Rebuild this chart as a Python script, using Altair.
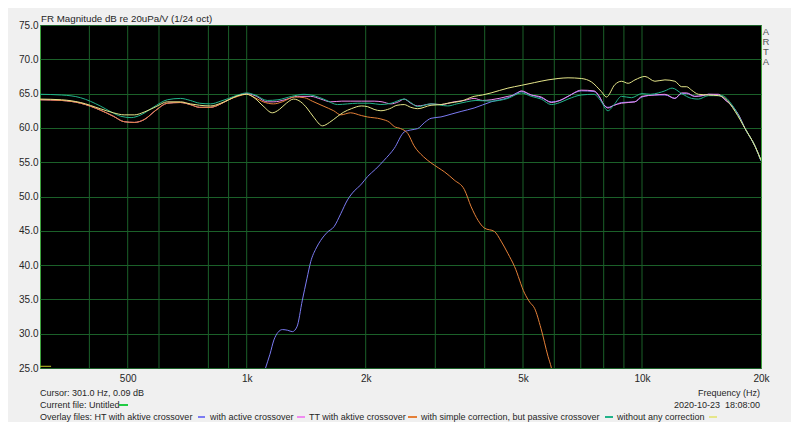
import altair as alt
import pandas as pd

FONT = "Liberation Sans"
TEXT_COLOR = "#262626"
GRID_COLOR = "#1b6029"

FREQ_DOMAIN = [300, 20000]
DB_DOMAIN = [25, 75]
X_LABEL_TICKS = [500, 1000, 2000, 5000, 10000, 20000]
X_GRID = [400, 500, 600, 800, 900, 1000, 2000, 3000, 4000, 5000, 6000, 7000, 8000, 9000, 10000]
Y_TICKS = [25, 30, 35, 40, 45, 50, 55, 60, 65, 70, 75]

# (frequency Hz, level dB)
CURRENT = [(300, 25.25), (320, 25.25)]

HT_ACTIVE = [(1100, 23.8), (1116, 25.0), (1145, 27.0), (1172, 29.1), (1200, 30.2), (1231, 30.6),
             (1270, 30.5), (1305, 30.3), (1340, 31.0), (1383, 34.9), (1420, 38.0), (1452, 40.5),
             (1500, 42.5), (1539, 43.6), (1600, 44.8), (1663, 45.6), (1730, 47.5), (1799, 49.5),
             (1870, 50.8), (1944, 51.7), (2021, 52.9), (2120, 54.0), (2228, 55.3), (2361, 57.0),
             (2503, 59.4), (2600, 59.7), (2707, 59.9), (2820, 60.8), (2926, 61.4), (3101, 61.6),
             (3288, 62.0), (3486, 62.4), (3761, 62.9), (4152, 63.8), (4579, 64.4), (4950, 65.3),
             (5245, 64.8), (5560, 64.4), (5895, 63.8), (6200, 64.0), (6500, 64.6), (7025, 65.4),
             (7560, 65.3), (7800, 64.5), (8000, 63.4), (8200, 63.0), (8500, 63.3), (8873, 63.7),
             (9590, 63.8), (10000, 64.5), (10780, 64.8), (11430, 64.8), (12110, 64.3), (12600, 65.0),
             (12970, 65.0), (13600, 64.6), (14200, 64.7), (14720, 64.9), (15610, 64.8), (16220, 64.1),
             (16870, 63.3), (17540, 61.9), (18230, 59.9), (19330, 57.3), (20000, 55.2)]

WITH_ACTIVE = [(300, 64.1), (340, 64.0), (380, 63.6), (426, 62.6), (460, 61.7), (490, 60.9),
               (520, 60.8), (550, 61.2), (590, 62.6), (630, 63.6), (680, 63.7), (720, 63.4),
               (760, 63.0), (810, 63.0), (860, 63.5), (900, 64.1), (950, 64.7), (1000, 65.0),
               (1050, 64.7), (1127, 63.8), (1172, 63.8), (1250, 64.1), (1343, 64.6), (1452, 64.6),
               (1540, 64.2), (1631, 63.8), (1740, 63.9), (1834, 63.9), (1950, 63.9), (2101, 63.9),
               (2200, 63.8), (2316, 63.5), (2420, 63.8), (2503, 64.2), (2600, 63.6), (2707, 63.2),
               (2800, 63.3), (2926, 63.5), (3101, 63.4), (3346, 63.8), (3550, 64.0), (3761, 64.3),
               (3950, 64.0), (4152, 64.1), (4350, 64.3), (4579, 64.6), (4800, 64.9), (4950, 65.4),
               (5245, 64.8), (5560, 64.5), (5895, 63.7), (6200, 64.0), (6500, 64.6), (7025, 65.5),
               (7560, 65.4), (7800, 64.6), (8000, 63.4), (8200, 62.9), (8500, 63.3), (8873, 63.6),
               (9590, 63.8), (10000, 64.6), (10780, 64.8), (11430, 64.9), (12110, 64.3), (12600, 65.1),
               (12970, 65.1), (13600, 64.6), (14200, 64.7), (14720, 64.9), (15610, 64.9), (16220, 64.1),
               (16870, 63.2), (17540, 61.9), (18230, 59.9), (19330, 57.3), (20000, 55.2)]

TT_ACTIVE = [(300, 64.1), (340, 64.0), (380, 63.6), (426, 62.6), (460, 61.7), (490, 60.9),
             (520, 60.8), (550, 61.2), (590, 62.6), (630, 63.6), (680, 63.7), (720, 63.4),
             (760, 63.0), (810, 63.0), (860, 63.5), (900, 64.1), (950, 64.6), (1000, 64.9),
             (1050, 64.4), (1100, 63.8), (1170, 63.5), (1230, 63.8), (1320, 64.5), (1400, 64.4),
             (1465, 63.9), (1560, 63.2), (1660, 62.5), (1730, 61.9), (1830, 62.2), (1950, 61.8),
             (2020, 61.6), (2185, 61.3), (2300, 60.8), (2361, 60.2), (2450, 59.9), (2555, 59.2),
             (2650, 57.4), (2800, 55.8), (2926, 54.9), (3050, 54.2), (3163, 53.6), (3350, 52.4),
             (3554, 51.0), (3697, 48.5), (3850, 46.5), (3993, 45.4), (4233, 44.9), (4400, 43.5),
             (4579, 41.7), (4759, 39.8), (5046, 35.9), (5200, 34.6), (5349, 33.7), (5550, 30.8),
             (5784, 26.7), (5900, 25.0), (5950, 24.0)]

PASSIVE = [(300, 64.9), (340, 64.8), (380, 64.4), (426, 63.2), (455, 62.3), (480, 61.7),
           (510, 61.5), (540, 61.9), (580, 63.0), (630, 64.1), (680, 64.3), (720, 64.0),
           (760, 63.6), (810, 63.5), (860, 63.9), (900, 64.3), (950, 64.8), (1000, 65.1),
           (1050, 64.8), (1127, 64.0), (1200, 64.1), (1300, 64.6), (1396, 64.9), (1480, 64.7),
           (1580, 64.1), (1697, 63.4), (1800, 63.5), (1907, 63.6), (2050, 63.6), (2185, 63.4),
           (2320, 63.6), (2503, 64.2), (2600, 63.7), (2707, 63.1), (2926, 63.5), (3226, 63.2),
           (3400, 63.5), (3600, 63.8), (3800, 64.0), (4152, 63.9), (4579, 64.3), (4950, 65.1),
           (5245, 64.6), (5560, 64.2), (5895, 63.4), (6200, 63.7), (6500, 64.2), (7025, 64.8),
           (7560, 64.9), (7850, 64.0), (8200, 62.5), (8500, 63.4), (8873, 64.6), (9400, 64.4),
           (10000, 65.0), (10500, 64.9), (11000, 65.1), (11430, 65.4), (11920, 65.8), (12600, 65.0),
           (13350, 64.3), (13890, 64.2), (14720, 64.7), (15920, 64.7), (16870, 63.4), (17540, 61.8),
           (18230, 59.9), (19330, 57.3), (20000, 55.2)]

NO_CORRECTION = [(300, 64.2), (340, 64.1), (380, 63.7), (426, 62.8), (460, 62.2), (490, 61.9),
                 (520, 61.9), (550, 62.3), (590, 63.1), (630, 63.8), (680, 63.8), (720, 63.5),
                 (760, 63.3), (810, 63.2), (860, 63.6), (900, 64.1), (950, 64.7), (1000, 64.9),
                 (1050, 64.3), (1100, 63.2), (1161, 62.2), (1210, 62.7), (1260, 63.6), (1314, 64.2),
                 (1370, 63.8), (1420, 62.9), (1480, 61.5), (1555, 60.3), (1620, 60.8), (1700, 61.7),
                 (1760, 62.3), (1840, 62.8), (1950, 63.2), (2021, 63.1), (2100, 62.7), (2185, 62.5),
                 (2300, 62.8), (2400, 63.3), (2503, 63.4), (2600, 63.0), (2707, 62.8), (2926, 63.3),
                 (3101, 63.4), (3226, 63.6), (3486, 63.9), (3761, 64.6), (3950, 64.8), (4152, 65.1),
                 (4579, 65.8), (4950, 66.2), (5340, 66.6), (5784, 67.0), (6133, 67.2), (6500, 67.3),
                 (7025, 67.2), (7449, 66.7), (7890, 65.3), (8130, 64.5), (8535, 66.3), (8873, 66.8),
                 (9225, 66.5), (9600, 67.0), (10170, 67.5), (10780, 66.8), (11430, 67.0), (12110, 66.8),
                 (12600, 66.0), (12970, 66.0), (13350, 65.5), (13890, 64.9), (14720, 64.8), (15610, 64.7),
                 (16220, 64.3), (17200, 62.4), (18230, 59.9), (19330, 57.3), (20000, 55.3)]

SERIES = [
    ("Current file", CURRENT, "#c8c828"),
    ("HT with aktive crossover", HT_ACTIVE, "#7b7bf2"),
    ("with active crossover", WITH_ACTIVE, "#f08cf0"),
    ("TT with aktive crossover", TT_ACTIVE, "#e58038"),
    ("with simple correction, but passive crossover", PASSIVE, "#22b38a"),
    ("without any correction", NO_CORRECTION, "#e6e68a"),
]

x_scale = alt.Scale(type="log", domain=FREQ_DOMAIN, nice=False)
y_scale = alt.Scale(domain=DB_DOMAIN, nice=False, zero=False)

x_enc = alt.X("freq:Q", scale=x_scale, axis=alt.Axis(
    values=X_LABEL_TICKS, grid=False, ticks=False, domain=False, title=None,
    labelExpr="datum.value >= 1000 ? (datum.value / 1000) + 'k' : '' + datum.value",
    labelFlush=False, labelOverlap=False, labelPadding=5, labelFontSize=10,
    labelColor=TEXT_COLOR, labelFont=FONT))
y_enc = alt.Y("db:Q", scale=y_scale, axis=alt.Axis(
    values=Y_TICKS, format=".1f", grid=True, gridColor=GRID_COLOR, gridOpacity=1,
    ticks=False, domain=False, title=None, labelPadding=2, labelFontSize=10,
    labelColor=TEXT_COLOR, labelFont=FONT, labelFlush=False, labelOverlap=False))

layers = []
grid = alt.Chart(pd.DataFrame({"freq": X_GRID})).mark_rule(
    color=GRID_COLOR, strokeWidth=1).encode(x=x_enc)
layers.append(grid)

for name, pts, color in SERIES:
    df = pd.DataFrame(pts, columns=["freq", "db"])
    layers.append(alt.Chart(df).mark_line(
        color=color, strokeWidth=1, clip=True, interpolate="monotone"
    ).encode(x=x_enc, y=y_enc, order="freq:Q"))


def txt(s, x, y, align="left", size=9, color=TEXT_COLOR):
    return alt.Chart(pd.DataFrame({"t": [s]})).mark_text(
        align=align, baseline="middle", fontSize=size, font=FONT, color=color
    ).encode(x=alt.value(x), y=alt.value(y), text="t:N")


def dash(x1, x2, y, color):
    return alt.Chart(pd.DataFrame({"a": [0]})).mark_rule(
        color=color, strokeWidth=2).encode(x=alt.value(x1), x2=alt.value(x2), y=alt.value(y))


# texts (positions relative to plot origin)
layers.append(txt("FR Magnitude dB re 20uPa/V (1/24 oct)", 1, -6, size=9.75))
for i, ch in enumerate("ARTA"):
    layers.append(txt(ch, 726, 7 + 10 * i, align="center", size=9.5, color="#555555"))
layers.append(txt("Cursor: 301.0 Hz, 0.09 dB", 0, 368))
layers.append(txt("Frequency (Hz)", 720, 368, align="right"))
layers.append(txt("Current file: Untitled", 0, 380))
layers.append(dash(79, 88, 380, "#22cc44"))
layers.append(txt("2020-10-23\u00a0\u00a018:08:00", 720, 380, align="right"))

legend_row = [
    ("Overlay files: HT with aktive crossover", 0, 158, 165, "#7b7bf2"),
    ("with active crossover", 170, 257, 265, "#f08cf0"),
    ("TT with aktive crossover", 269, 368, 377, "#e58038"),
    ("with simple correction, but passive crossover", 381, 565, 573, "#22b38a"),
    ("without any correction", 577, 669, 677, "#e6e68a"),
]
for label, tx, d1, d2, c in legend_row:
    layers.append(txt(label, tx, 392))
    layers.append(dash(d1, d2, 392, c))

chart = alt.layer(*layers).properties(
    width=721, height=343, background="#f0f0f0",
    padding={"left": 32, "top": 17, "right": 30, "bottom": 54},
    autosize=alt.AutoSizeParams(type="none"),
).configure_view(fill="black", stroke="#3da03d", strokeWidth=1)

chart.save("out.html", embed_options={"renderer": "svg", "actions": False})
